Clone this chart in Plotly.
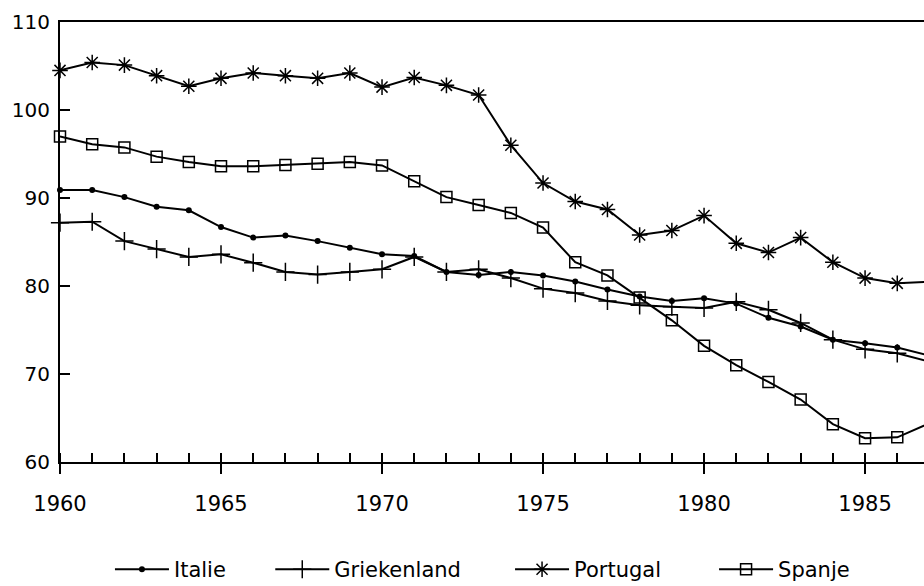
import plotly.graph_objects as go

# Years on the horizontal axis
years = list(range(1960, 1988))

# Index values per country
italie = [90.9, 90.9, 90.1, 89.0, 88.6, 86.7, 85.5, 85.75, 85.1, 84.35,
          83.6, 83.4, 81.6, 81.25, 81.6, 81.2, 80.5, 79.6, 78.8, 78.3,
          78.6, 78.0, 76.4, 75.4, 73.9, 73.5, 73.0, 72.1]
griekenland = [87.2, 87.3, 85.1, 84.2, 83.3, 83.6, 82.65, 81.6, 81.3, 81.6,
               81.9, 83.3, 81.6, 81.9, 80.9, 79.7, 79.2, 78.3, 77.8, 77.65,
               77.5, 78.2, 77.3, 75.8, 73.9, 72.8, 72.35, 71.4]
portugal = [104.5, 105.4, 105.1, 103.9, 102.7, 103.6, 104.2, 103.9, 103.6, 104.2,
            102.6, 103.7, 102.8, 101.7, 96.0, 91.7, 89.6, 88.7, 85.8, 86.3,
            88.0, 84.85, 83.8, 85.5, 82.7, 80.9, 80.3, 80.5]
spanje = [97.0, 96.1, 95.75, 94.7, 94.1, 93.6, 93.6, 93.75, 93.9, 94.1,
          93.7, 91.9, 90.1, 89.2, 88.3, 86.65, 82.7, 81.2, 78.7, 76.1,
          73.2, 71.0, 69.1, 67.1, 64.3, 62.7, 62.8, 64.4]

x_ticks = [1960, 1965, 1970, 1975, 1980, 1985]
y_ticks = [60, 70, 80, 90, 100, 110]

FONT = "DejaVu Sans"
INK = "black"

series = [
    ("Italie", italie, dict(symbol="circle", size=6, color=INK)),
    ("Griekenland", griekenland, dict(symbol="cross-thin-open", size=13,
                                      color=INK, line=dict(color=INK, width=1.5))),
    ("Portugal", portugal, dict(symbol="asterisk-open", size=13,
                                color=INK, line=dict(color=INK, width=1.5))),
    ("Spanje", spanje, dict(symbol="square-open", size=11,
                            color=INK, line=dict(color=INK, width=1.5))),
]

# one single-entry legend per series, spread along the bottom of the page
legend_ids = ["legend", "legend2", "legend3", "legend4"]
legend_x = [0.1190, 0.2925, 0.5520, 0.7728]

fig = go.Figure()
for (name, values, marker), lid in zip(series, legend_ids):
    fig.add_trace(go.Scatter(
        x=years, y=values, name=name, mode="lines+markers",
        line=dict(color=INK, width=2), marker=marker, cliponaxis=False,
        legend=lid,
    ))

# invisible companion axis that carries the upward half of the 5-year ticks
fig.add_trace(go.Scatter(x=[1960], y=[60], xaxis="x2", mode="markers",
                         marker=dict(opacity=0), showlegend=False,
                         hoverinfo="skip"))

legend_style = dict(
    orientation="h", xref="container", yref="container",
    y=0.028, yanchor="middle", xanchor="left",
    font=dict(family=FONT, size=21, color=INK), itemwidth=54,
    bgcolor="rgba(0,0,0,0)",
)
layout_legends = {lid: dict(legend_style, x=lx) for lid, lx in zip(legend_ids, legend_x)}

fig.update_layout(
    width=924, height=586,
    margin=dict(l=60, r=0, t=22, b=124, autoexpand=False),
    paper_bgcolor="white", plot_bgcolor="white",
    font=dict(family=FONT, size=20, color=INK),
    showlegend=True,
    **layout_legends,
)

fig.update_layout(
    xaxis=dict(
        range=[1960, 1986.83], tickvals=x_ticks, ticktext=[str(v) for v in x_ticks],
        ticks="outside", ticklen=10, tickwidth=1.5, tickcolor=INK,
        minor=dict(dtick=1, tick0=1960, ticks="inside", ticklen=9, tickwidth=1.5,
                   tickcolor=INK, showgrid=False),
        showline=True, linecolor=INK, linewidth=2, mirror=True,
        showgrid=False, zeroline=False, tickfont=dict(size=21),
        ticklabelstandoff=12,
    ),
    xaxis2=dict(
        overlaying="x", matches="x", anchor="y", side="bottom",
        tickvals=x_ticks, ticks="inside", ticklen=9, tickwidth=1.5, tickcolor=INK,
        showticklabels=False, showline=False, showgrid=False, zeroline=False,
    ),
    yaxis=dict(
        range=[60, 110], tickvals=y_ticks, ticktext=[str(v) for v in y_ticks],
        ticks="inside", ticklen=10, tickwidth=1.5, tickcolor=INK,
        showline=True, linecolor=INK, linewidth=2,
        showgrid=False, zeroline=False, tickfont=dict(size=20),
        ticklabelstandoff=4,
    ),
)

fig.write_html("out.html")
